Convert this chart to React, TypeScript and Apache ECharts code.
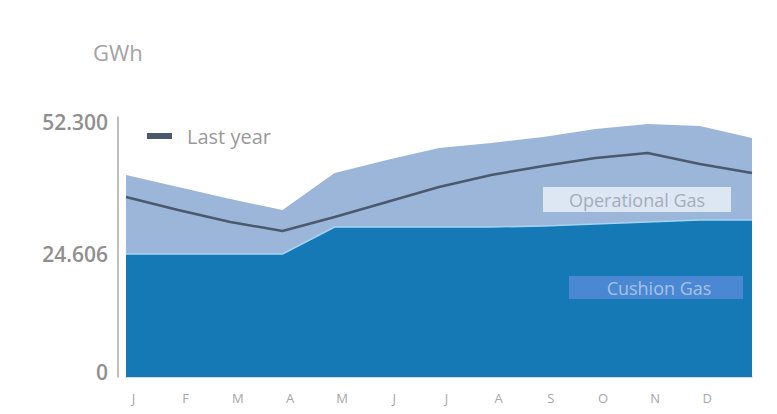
import React, { useEffect, useRef } from "react";
import * as echarts from "echarts";

const months = ["J", "F", "M", "A", "M", "J", "J", "A", "S", "O", "N", "D", ""];
const cushionGas = [25740, 25740, 25740, 25740, 31390, 31390, 31390, 31390, 31600, 32010, 32430, 32850, 32850];
const operationalGas = [16530, 14020, 11510, 9200, 11300, 14020, 16530, 17570, 18620, 19880, 20510, 19670, 17160];
const lastYear = [37660, 34940, 32430, 30550, 33480, 36620, 39760, 42270, 44150, 45830, 46870, 44570, 42690];
const yTickValues = [0, 24606, 52300];

const fmt = (v: number) => String(Math.round(v)).replace(/\B(?=(\d{3})+(?!\d))/g, ".");

export default function App() {
  const ref = useRef<HTMLDivElement>(null);
  useEffect(() => {
    if (!ref.current) return;
    const chart = echarts.init(ref.current, null, { renderer: "svg" });
    chart.setOption({
      animation: false,
      backgroundColor: "#ffffff",
      title: {
        text: "GWh",
        left: 88,
        top: 36,
        textStyle: { fontFamily: "Open Sans", fontSize: 22, fontWeight: "normal", color: "#a3a3a3" },
      },
      legend: {
        data: ["Last year"],
        left: 142,
        top: 121,
        icon: "rect",
        itemWidth: 25,
        itemHeight: 6,
        textStyle: { fontFamily: "Open Sans", fontSize: 20, color: "#999999", padding: [0, 0, 0, 10] },
      },
      grid: { left: 126, right: 25, top: 117, bottom: 37 },
      xAxis: {
        type: "category",
        data: months,
        boundaryGap: false,
        offset: 5,
        axisLine: { show: true, lineStyle: { color: "#c9cbd3", width: 1.5 } },
        axisTick: { show: false },
        axisLabel: {
          interval: 0,
          margin: 9,
          color: "#a6a6a6",
          fontSize: 13,
          fontFamily: "Open Sans",
          padding: [0, 0, 0, 15],
        },
        splitLine: { show: false },
      },
      yAxis: {
        type: "value",
        min: 0,
        max: 54400,
        offset: 8,
        axisLine: { show: true, lineStyle: { color: "#a8a8a8", width: 1.5 } },
        axisTick: { show: false },
        splitLine: { show: false },
        axisLabel: {
          customValues: yTickValues,
          margin: 10,
          formatter: (v: number) => fmt(v),
          color: "#8f8f8f",
          fontSize: 21,
          fontWeight: 600,
          fontFamily: "Open Sans",
          verticalAlign: "bottom",
          lineHeight: 10,
        },
      },
      series: [
        {
          name: "Cushion Gas",
          type: "line",
          stack: "gas",
          data: cushionGas,
          symbol: "none",
          z: 3,
          lineStyle: { color: "#a6d3f2", width: 1.5 },
          areaStyle: { color: "#1479b4", opacity: 1 },
        },
        {
          name: "Operational Gas",
          type: "line",
          stack: "gas",
          data: operationalGas,
          symbol: "none",
          z: 2,
          lineStyle: { width: 0, color: "#9cb6d9" },
          areaStyle: { color: "#9cb6d9", opacity: 1 },
        },
        {
          name: "Last year",
          type: "line",
          data: lastYear,
          symbol: "none",
          z: 4,
          itemStyle: { color: "#4b596c" },
          lineStyle: { color: "#4b596c", width: 2.5 },
        },
      ],
      graphic: [
        {
          type: "rect",
          z: 100,
          shape: { x: 543, y: 187, width: 188, height: 25 },
          style: { fill: "#dde6f3" },
        },
        {
          type: "text",
          z: 101,
          x: 637,
          y: 200,
          style: {
            text: "Operational Gas",
            align: "center",
            verticalAlign: "middle",
            fill: "#a4acbb",
            fontFamily: "Open Sans",
            fontSize: 18,
          },
        },
        {
          type: "rect",
          z: 100,
          shape: { x: 569, y: 276, width: 174, height: 23 },
          style: { fill: "#4b88d3" },
        },
        {
          type: "text",
          z: 101,
          x: 659,
          y: 288,
          style: {
            text: "Cushion Gas",
            align: "center",
            verticalAlign: "middle",
            fill: "#a6c2e8",
            fontFamily: "Open Sans",
            fontSize: 18,
          },
        },
      ],
    });
    return () => chart.dispose();
  }, []);
  return <div ref={ref} style={{ position: "fixed", left: 0, top: 0, width: 777, height: 414 }} />;
}
